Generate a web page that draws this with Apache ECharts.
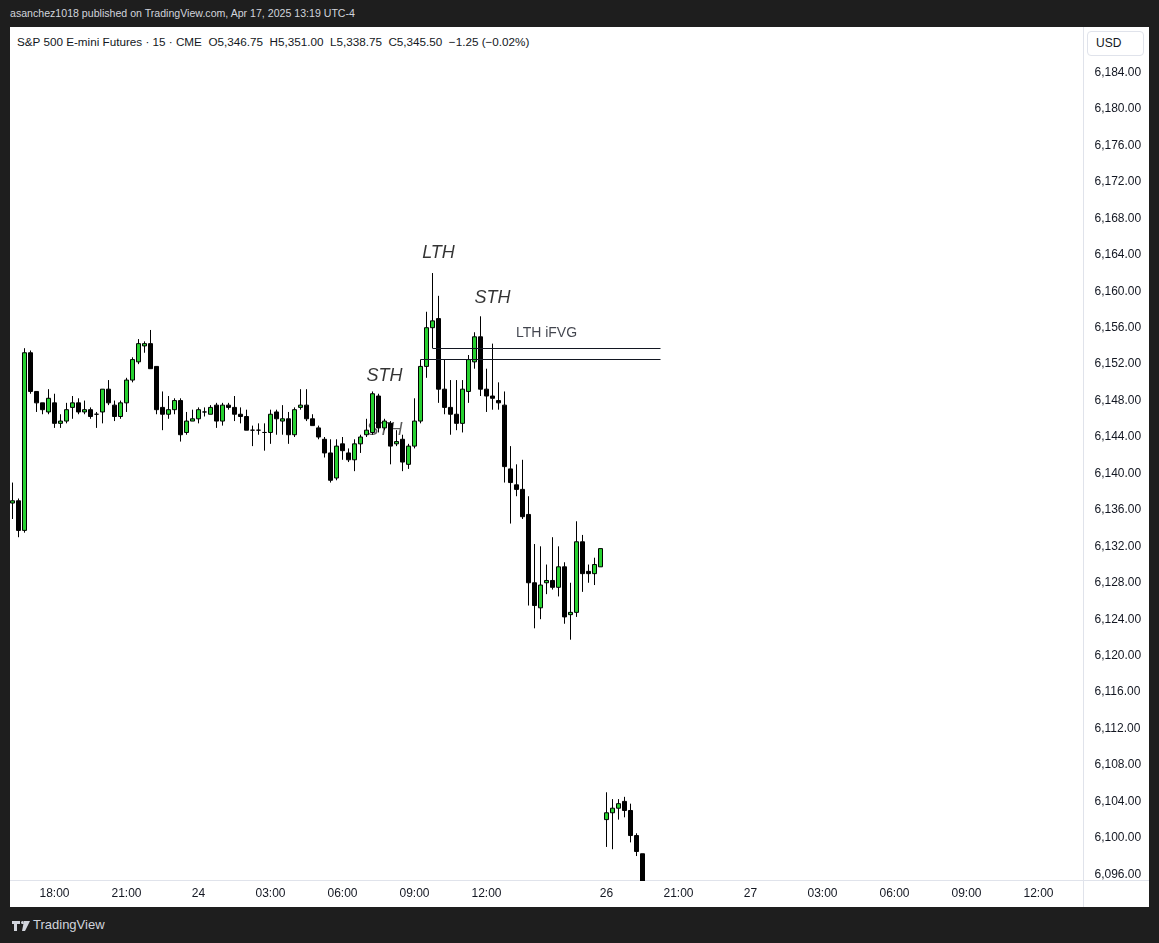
<!DOCTYPE html>
<html>
<head>
<meta charset="utf-8">
<title>S&amp;P 500 E-mini Futures 15</title>
<script src="https://cdn.jsdelivr.net/npm/echarts@6/dist/echarts.min.js"></script>
<style>
  html, body { margin: 0; padding: 0; width: 1159px; height: 943px; overflow: hidden;
    background: #1e1e1e; font-family: 'Liberation Sans', Arial, sans-serif; }
  #header { position: absolute; left: 10px; top: 5px; color: #d1d4dc; font-size: 10.6px; line-height: 16px; }
  #frame { position: absolute; left: 10px; top: 27px; width: 1139px; height: 880px; background: #fff; }
  #vsep { position: absolute; left: 1073px; top: 0; width: 1px; height: 880px; background: #e0e3eb; }
  #hsep { position: absolute; left: 0; top: 853px; width: 1139px; height: 1px; background: #e0e3eb; }
  #usd { position: absolute; left: 1077px; top: 4px; width: 57px; height: 25px; box-sizing: border-box;
    border: 1px solid #e0e3eb; border-radius: 4px; font-size: 12px; line-height: 23px; color: #131722; padding-left: 8px; }
  #legend { position: absolute; left: 7px; top: 8px; font-size: 11.7px; color: #131722; white-space: pre; }
  #footer { position: absolute; left: 12px; top: 917px; color: #d1d4dc; font-size: 13px; line-height: 16px; }
  #footer svg { vertical-align: -2px; margin-right: 3px; }
  #chart { position: absolute; left: 0; top: 0; width: 1159px; height: 943px; }
</style>
</head>
<body>
<div id="header">asanchez1018 published on TradingView.com, Apr 17, 2025 13:19 UTC-4</div>
<div id="frame">
  <div id="vsep"></div>
  <div id="hsep"></div>
  <div id="usd">USD</div>
  <div id="legend">S&amp;P 500 E-mini Futures · 15 · CME  O5,346.75  H5,351.00  L5,338.75  C5,345.50  −1.25 (−0.02%)</div>
</div>
<div id="footer"><svg width="18" height="10" viewBox="0 0 18 10"><path d="M0 0h8v3H5v7H2V3H0z M9 1.5a1.5 1.5 0 1 0 3 0a1.5 1.5 0 1 0 -3 0z M12 0h6l-5 10h-3z" fill="#d1d4dc"/></svg>TradingView</div>
<div id="chart"></div>
<script>
// 15 分钟 K 线（每个槽位 = 一根 K 线，空槽位 = 无数据）
const totalSlots = 179;

const opens = [
  6136.75, 6137.0, 6133.75, 6153.25, 6149.0, 6147.75, 6146.75, 6147.75, 6145.5, 6145.75,
  6147.25, 6147.75, 6146.75, 6147.0, 6146.5, 6146.75, 6149.25, 6147.5, 6146.25, 6147.75,
  6150.25, 6152.25, 6154.0, 6154.25, 6151.75, 6147.25, 6146.5, 6147.0, 6148.0, 6144.5,
  6145.75, 6146.0, 6146.75, 6146.5, 6147.5, 6145.75, 6147.5, 6147.25, 6146.5, 6146.25,
  6144.75, 6144.75, 6144.5, 6144.5, 6146.75, 6145.75, 6146.0, 6144.25, 6147.25, 6147.5,
  6146.0, 6145.0, 6143.75, 6142.25, 6139.5, 6143.25, 6142.25, 6141.5, 6143.25, 6144.25,
  6144.5, 6148.5, 6145.0, 6145.5, 6143.25, 6143.75, 6141.0, 6143.0, 6145.75, 6151.75,
  6156.0, 6157.0, 6149.25, 6147.25, 6146.5, 6145.5, 6149.0, 6152.25, 6155.0, 6149.25,
  6148.5, 6148.0, 6147.5, 6140.5, 6138.75, 6138.25, 6135.5, 6128.0, 6125.25, 6128.0,
  6128.25, 6127.5, 6129.75, 6124.5, 6124.75, 6132.5, 6129.25, 6129.0, 6129.75,
  6102.0, 6102.75, 6103.25, 6104.0, 6103.0, 6100.25, 6098.25
];
const highs = [
  6139.0, 6137.25, 6153.75, 6153.5, 6149.0, 6147.75, 6149.25, 6148.75, 6146.5, 6147.75,
  6148.5, 6148.25, 6148.0, 6147.25, 6146.75, 6149.25, 6150.25, 6148.0, 6148.0, 6150.5,
  6152.75, 6154.75, 6154.5, 6155.75, 6151.75, 6149.0, 6148.5, 6148.25, 6148.25, 6146.75,
  6147.0, 6147.25, 6147.25, 6147.5, 6147.75, 6147.75, 6147.75, 6148.5, 6147.25, 6147.0,
  6145.25, 6145.5, 6145.5, 6147.0, 6147.0, 6147.5, 6146.75, 6147.25, 6149.25, 6149.25,
  6146.5, 6145.25, 6144.0, 6143.75, 6143.75, 6144.0, 6142.75, 6143.75, 6144.25, 6146.0,
  6149.0, 6148.75, 6146.0, 6145.75, 6144.75, 6144.25, 6143.25, 6148.25, 6152.5, 6157.75,
  6162.0, 6159.5, 6152.5, 6150.25, 6150.25, 6150.25, 6153.0, 6155.5, 6157.25, 6151.5,
  6154.25, 6150.0, 6149.0, 6143.0, 6141.0, 6141.5, 6137.5, 6132.25, 6132.0, 6130.0,
  6133.0, 6132.0, 6130.25, 6128.0, 6134.75, 6133.25, 6130.0, 6130.75, 6131.75,
  6105.0, 6104.25, 6104.25, 6104.5, 6103.75, 6100.5, 6098.25
];
const lows = [
  6135.0, 6133.0, 6133.5, 6148.75, 6146.75, 6146.5, 6146.5, 6145.0, 6145.0, 6145.5,
  6146.0, 6146.5, 6146.5, 6146.0, 6145.0, 6145.5, 6147.5, 6145.75, 6146.0, 6146.75,
  6150.0, 6152.0, 6153.25, 6151.5, 6146.5, 6144.75, 6146.0, 6146.5, 6143.5, 6144.25,
  6145.75, 6145.5, 6146.25, 6146.5, 6145.0, 6145.25, 6147.0, 6145.75, 6145.5, 6144.75,
  6143.0, 6144.25, 6142.5, 6143.25, 6144.25, 6144.25, 6143.25, 6144.0, 6147.0, 6145.75,
  6145.25, 6143.75, 6141.75, 6139.0, 6139.25, 6141.5, 6141.25, 6140.25, 6142.25, 6144.0,
  6144.25, 6144.5, 6144.75, 6141.0, 6143.0, 6140.25, 6140.5, 6142.75, 6145.5, 6150.5,
  6153.75, 6147.75, 6146.5, 6144.25, 6144.75, 6144.5, 6147.75, 6151.5, 6148.5, 6146.75,
  6147.0, 6147.0, 6139.0, 6134.5, 6137.5, 6135.0, 6125.5, 6123.0, 6124.0, 6126.75,
  6127.25, 6126.5, 6123.5, 6121.75, 6124.25, 6127.0, 6128.0, 6127.75, 6129.75,
  6099.0, 6098.75, 6102.0, 6102.25, 6099.5, 6098.0, 6093.0
];
const closes = [
  6137.0, 6133.75, 6153.25, 6149.0, 6147.75, 6147.0, 6148.25, 6145.5, 6145.75, 6147.0,
  6147.75, 6146.75, 6147.0, 6146.25, 6146.5, 6149.25, 6147.75, 6146.25, 6147.75, 6150.25,
  6152.5, 6154.25, 6154.25, 6151.5, 6147.0, 6146.5, 6147.0, 6148.0, 6144.25, 6145.75,
  6146.0, 6147.0, 6146.75, 6147.25, 6145.75, 6147.5, 6147.25, 6146.5, 6146.25, 6144.75,
  6144.75, 6144.75, 6144.5, 6146.5, 6146.0, 6146.0, 6144.25, 6147.0, 6147.5, 6146.0,
  6145.25, 6144.0, 6142.25, 6139.25, 6143.0, 6142.5, 6141.5, 6143.25, 6144.0, 6144.75,
  6148.75, 6145.0, 6145.75, 6143.0, 6143.5, 6141.25, 6143.0, 6145.75, 6151.75, 6156.0,
  6156.75, 6149.25, 6147.25, 6146.5, 6145.5, 6149.25, 6152.5, 6155.0, 6149.25, 6148.5,
  6148.25, 6147.75, 6140.75, 6139.0, 6138.25, 6135.25, 6128.0, 6125.5, 6127.75, 6128.25,
  6127.5, 6129.75, 6124.25, 6124.75, 6132.5, 6129.0, 6129.0, 6130.0, 6131.75,
  6102.75, 6103.25, 6103.75, 6103.0, 6100.25, 6098.5, 6093.5
];

// 时间轴刻度
const tickSlots = [7, 19, 31, 43, 55, 67, 79, 99, 111, 123, 135, 147, 159, 171];
const tickLabels = ['18:00', '21:00', '24', '03:00', '06:00', '09:00', '12:00', '26', '21:00', '27', '03:00', '06:00', '09:00', '12:00'];

// 价格轴刻度
const priceTicks = [6096, 6100, 6104, 6108, 6112, 6116, 6120, 6124, 6128, 6132, 6136, 6140,
  6144, 6148, 6152, 6156, 6160, 6164, 6168, 6172, 6176, 6180, 6184];
const priceMin = 6095.37;
const priceMax = 6188.9;

// 标注：摆动高点
const swingSlots = [70.9, 79.9, 62.1];
const swingPrices = [6164.25, 6159.3, 6150.75];
const swingTexts = ['LTH', 'STH', 'STH'];
// 被 K 线遮住的 STH
const hiddenSwingSlots = [62.1];
const hiddenSwingPrices = [6144.8];
const hiddenSwingTexts = ['STH'];

// LTH iFVG 区间
const zoneStartSlots = [70, 68];
const zonePrices = [6153.75, 6152.5];
const zoneEndSlot = 108;
const zoneLabelSlot = 88.9;
const zoneLabelPrice = 6155.35;
const zoneLabelText = 'LTH iFVG';

const categories = Array.from({ length: totalSlots }, (_, i) => 's' + i);

const fmtPrice = v => {
  const [a, b] = v.toFixed(2).split('.');
  return a.replace(/\B(?=(\d{3})+$)/g, ',') + '.' + b;
};

const noteLabel = {
  show: true,
  position: 'inside',
  formatter: p => p.data[2],
  fontStyle: 'italic',
  fontSize: 18,
  color: '#000000',
};

const chart = echarts.init(document.getElementById('chart'));

const option = {
  animation: false,
  backgroundColor: 'transparent',
  textStyle: { fontFamily: "'Liberation Sans', Arial, sans-serif" },
  grid: { left: 9.5, top: 28, width: 1074, height: 852 },
  // 时间轴区域盖住越界的 K 线
  graphic: [{
    type: 'rect',
    z: 5,
    silent: true,
    shape: { x: 10, y: 881, width: 1073, height: 25 },
    style: { fill: '#ffffff' },
  }],
  xAxis: {
    type: 'category',
    z: 10,
    data: categories,
    boundaryGap: true,
    axisLine: { show: false },
    axisTick: { show: false },
    splitLine: { show: false },
    axisLabel: {
      interval: (i) => tickSlots.includes(i),
      formatter: (v, i) => {
        const k = tickSlots.indexOf(i);
        return k >= 0 ? tickLabels[k] : '';
      },
      color: '#131722',
      fontSize: 12,
      margin: 8,
    },
  },
  yAxis: {
    type: 'value',
    position: 'right',
    min: priceMin,
    max: priceMax,
    scale: true,
    axisLine: { show: false },
    axisTick: { show: false },
    splitLine: { show: false },
    axisLabel: {
      customValues: priceTicks,
      formatter: fmtPrice,
      color: '#131722',
      fontSize: 12,
      margin: 11,
    },
  },
  series: [
    {
      name: 'hiddenNotes',
      type: 'scatter',
      z: 1,
      symbolSize: 1,
      itemStyle: { color: 'rgba(0,0,0,0)' },
      data: hiddenSwingSlots.map((s, i) => [s, hiddenSwingPrices[i], hiddenSwingTexts[i]]),
      label: Object.assign({}, noteLabel, { color: '#333333' }),
      silent: true,
    },
    {
      name: 'ES',
      type: 'candlestick',
      z: 2,
      barWidth: 4,
      clip: true,
      data: opens.map((o, i) => [o, closes[i], lows[i], highs[i]]),
      itemStyle: {
        color: '#27d130',
        color0: '#000000',
        borderColor: '#000000',
        borderColor0: '#000000',
        borderWidth: 1,
      },
      markLine: {
        silent: true,
        symbol: 'none',
        label: { show: false },
        lineStyle: { color: '#131722', width: 1, type: 'solid' },
        data: zonePrices.map((p, i) => [
          { coord: [zoneStartSlots[i], p] },
          { coord: [zoneEndSlot, p] },
        ]),
      },
    },
    {
      name: 'notes',
      type: 'scatter',
      z: 3,
      symbolSize: 1,
      itemStyle: { color: 'rgba(0,0,0,0)' },
      data: swingSlots.map((s, i) => [s, swingPrices[i], swingTexts[i]]),
      label: noteLabel,
      silent: true,
    },
    {
      name: 'zoneLabel',
      type: 'scatter',
      z: 3,
      symbolSize: 1,
      itemStyle: { color: 'rgba(0,0,0,0)' },
      data: [[zoneLabelSlot, zoneLabelPrice, zoneLabelText]],
      label: {
        show: true,
        position: 'inside',
        formatter: p => p.data[2],
        fontSize: 14,
        color: '#131722',
      },
      silent: true,
    },
  ],
};

chart.setOption(option);
</script>
</body>
</html>
